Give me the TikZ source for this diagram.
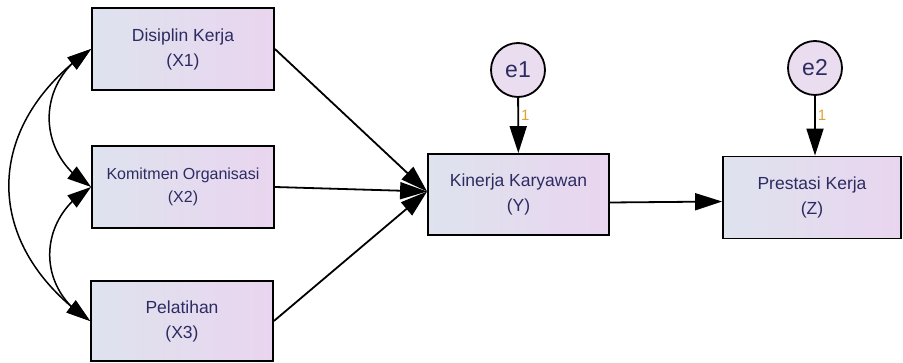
\documentclass[tikz,border=0pt]{standalone}
\usepackage{fontspec}
\setmainfont{Liberation Sans}
\usetikzlibrary{arrows.meta,bending}

\definecolor{boxleft}{HTML}{DEE3EE}
\definecolor{boxright}{HTML}{E9D5EF}
\definecolor{errfill}{HTML}{EBDDF0}
\definecolor{labnavy}{HTML}{2C2C62}
\definecolor{wtorange}{HTML}{E0A030}

\begin{document}
\begin{tikzpicture}[x=1pt, y=1pt,
    var/.style={draw, line width=1.8pt, left color=boxleft, right color=boxright,
        minimum width=182pt, minimum height=82pt, inner sep=0, align=center,
        text=labnavy, font=\fontsize{17.5}{25}\selectfont},
    err/.style={draw, shape=circle, line width=1.8pt, fill=errfill,
        minimum size=54pt, inner sep=0, text=labnavy,
        font=\fontsize{23}{25}\selectfont},
    effect/.style={line width=1.8pt, -{Triangle[length=27pt, width=17pt]}},
    cov/.style={line width=1.5pt,
        {Triangle[length=24pt, width=15pt]}-{Triangle[length=24pt, width=15pt]}},
    weight/.style={right, inner sep=2pt, text=wtorange,
        font=\fontsize{15}{15}\selectfont}]

    \useasboundingbox (0, 0) rectangle (903, -363);

    % Exogenous variables
    \node[var] (X1) at (183, -49) {Disiplin Kerja\\(X1)};
    \node[var, font=\fontsize{16}{23}\selectfont] (X2) at (183, -187)
        {Komitmen Organisasi\\(X2)};
    \node[var, minimum height=80pt] (X3) at (182, -321) {Pelatihan\\(X3)};

    % Endogenous variables
    \node[var, minimum width=181pt, minimum height=81pt] (Y) at (518.5, -194.5)
        {Kinerja Karyawan\\(Y)};
    \node[var, minimum width=178pt] (Z) at (812, -197.5) {Prestasi Kerja\\(Z)};

    % Error terms
    \node[err] (e1) at (518, -70) {e1};
    \node[err] (e2) at (815, -68) {e2};

    % Covariances
    \draw[cov] (X1.west) to[out=210, in=150, looseness=1.2] (X2.west);
    \draw[cov] (X2.west) to[out=210, in=150, looseness=1.2] (X3.west);
    \draw[cov] (X1.west) to[out=215, in=145, looseness=1.25] (X3.west);

    % Paths
    \foreach \x in {X1, X2, X3}
        \draw[effect] (\x.east) -- ([yshift=3pt]Y.west);
    \draw[effect] ([yshift=-8pt]Y.east) -- ([yshift=-4pt]Z.west);
    \draw[effect] (e1) -- node[weight, pos=0.32] {1} (Y);
    \draw[effect] (e2) -- node[weight, pos=0.32] {1} (e2 |- Z.north);

\end{tikzpicture}
\end{document}
